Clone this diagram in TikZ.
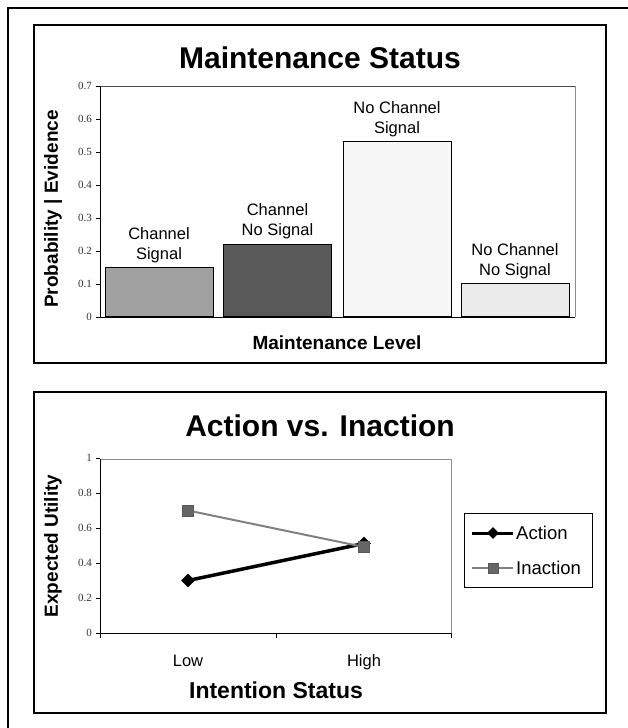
\documentclass[tikz,border=0pt]{standalone}
\usepackage{fontspec}
\setmainfont{Liberation Sans}
\newfontfamily\tickfont{Liberation Serif}
\usepackage{tikz}
\usetikzlibrary{positioning,shapes.geometric}

\begin{document}
\begin{tikzpicture}[x=1pt,y=-1pt,
  chart box/.style={draw,line width=1.3pt},
  title node/.style={anchor=base,font=\fontsize{30}{30}\selectfont\bfseries},
  axis label/.style={font=\fontsize{19}{19}\selectfont\bfseries},
  tick label/.style={anchor=east,inner sep=1pt,text=black!80,font=\tickfont\fontsize{11}{11}\selectfont},
  bar node/.style={draw,line width=0.8pt,anchor=south,minimum width=108pt,inner sep=0pt},
  bar label/.style={align=center,inner sep=1pt,font=\fontsize{16.5}{20}\selectfont},
  cat label/.style={anchor=base,font=\fontsize{16.5}{16.5}\selectfont},
  act mark/.style={diamond,fill=black,inner sep=0pt,minimum size=14pt},
  inact mark/.style={rectangle,fill=black!60,draw=black!65,inner sep=0pt,minimum size=11pt},
  act line/.style={line width=3.5pt,black},
  inact line/.style={line width=2pt,black!50}]

  \useasboundingbox (0,0) rectangle (628,728);
  \draw[line width=2.5pt] (8,728) -- (8,8) -- (628,8);

  % maintenance status
  \draw[chart box] (34,25) rectangle (606,363);
  \node[title node] (mtitle) at (320,68) {Maintenance Status};
  \draw[black!70,line width=0.8pt] (100,86) -- (575,86);
  \draw[black!45,line width=0.8pt] (575,86) -- (575,317);
  \foreach \v in {1,...,7}{
    \draw[line width=0.8pt] (96,317-\v*33) -- (100,317-\v*33);
    \node[tick label] at (93,317-\v*33) {0.\v};
  }
  \draw[line width=0.8pt] (96,317) -- (100,317);
  \node[tick label] (mzero) at (93,317) {0};

  \node[bar node,fill=black!37,minimum height=49.5pt] (b1) at (159,317) {};
  \node[bar node,fill=black!65,minimum height=72.6pt] (b2) at (277.5,317) {};
  \node[bar node,fill=black!3,minimum height=174.9pt] (b3) at (397,317) {};
  \node[bar node,fill=black!8,minimum height=33pt] (b4) at (515,317) {};
  \draw[line width=1pt] (100,86) -- (100,317) -- (575,317);

  \node[bar label,above=3pt of b1] (l1) {Channel\\Signal};
  \node[bar label,above=3pt of b2] (l2) {Channel\\No Signal};
  \node[bar label,above=3pt of b3] (l3) {No Channel\\Signal};
  \node[bar label,above=3pt of b4] (l4) {No Channel\\No Signal};

  \node[axis label,rotate=90] (mylabel) at (53,209) {Probability | Evidence};
  \node[axis label,anchor=base] (mxlabel) at (337,349) {Maintenance Level};

  % action vs. inaction
  \draw[chart box] (34,392) rectangle (606,713);
  \node[title node] (atitle) at (320,436) {Action vs. Inaction};
  \draw[black!45,line width=0.8pt] (100,459) -| (451,633);
  \foreach \v/\t in {0/0,1/0.2,2/0.4,3/0.6,4/0.8,5/1}{
    \draw[line width=0.8pt] (96,633-\v*35) -- (100,633-\v*35);
    \node[tick label] at (93,633-\v*35) {\t};
  }
  \foreach \x in {100,276,451}
    \draw[line width=0.8pt] (\x,633) -- (\x,638);
  \draw[line width=1pt] (100,459) -- (100,633) -- (451,633);

  \node[act mark] (a1) at (188,580.5) {};
  \node[act mark] (a2) at (364,543.5) {};
  \draw[act line] (a1.center) -- (a2.center);
  \node[inact mark] (i1) at (188,510.5) {};
  \node[inact mark] (i2) at (364,547) {};
  \draw[inact line] (i1) -- (i2);

  \node[cat label] (low) at (188,666) {Low};
  \node[cat label] (high) at (364,666) {High};
  \node[axis label,anchor=base,font=\fontsize{23}{23}\selectfont\bfseries] (axlabel) at (276,698) {Intention Status};
  \node[axis label,rotate=90] (aylabel) at (53,546) {Expected Utility};

  % legend
  \draw[line width=0.8pt] (464,513) rectangle (592,587);
  \coordinate (lga1) at (472,533);
  \coordinate (lga2) at (513,533);
  \coordinate (lgi1) at (472,568);
  \coordinate (lgi2) at (513,568);
  \draw[act line,line width=3pt] (lga1) -- (lga2);
  \node[act mark,minimum size=12pt] (lgam) at (493,533) {};
  \draw[inact line] (lgi1) -- (lgi2);
  \node[inact mark,minimum size=10pt] (lgim) at (493,568) {};
  \node[anchor=west,inner sep=0pt,font=\fontsize{18.5}{18.5}\selectfont] (lgat) at (516,533) {Action};
  \node[anchor=west,inner sep=0pt,font=\fontsize{18.5}{18.5}\selectfont] (lgit) at (516,568) {Inaction};
\end{tikzpicture}
\end{document}
